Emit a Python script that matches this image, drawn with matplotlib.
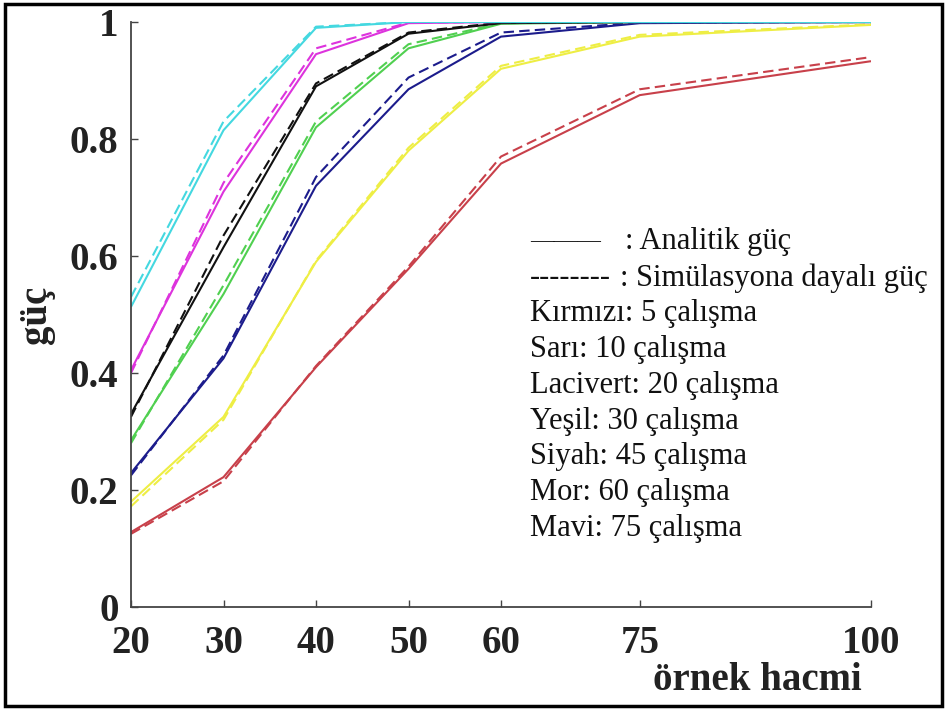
import matplotlib
matplotlib.use('Agg')
import matplotlib.pyplot as plt
from matplotlib.patches import Rectangle

# sample sizes (x axis)
n = [20, 30, 40, 50, 60, 75, 100]

# analytic power (solid) and simulation power (dashed) per number of studies
red_an = [0.128, 0.222, 0.410, 0.578, 0.758, 0.875, 0.933]
red_sim = [0.125, 0.215, 0.412, 0.582, 0.770, 0.885, 0.940]
yel_an = [0.180, 0.325, 0.590, 0.780, 0.920, 0.975, 0.995]
yel_sim = [0.172, 0.320, 0.592, 0.785, 0.925, 0.978, 0.996]
nav_an = [0.229, 0.425, 0.720, 0.885, 0.975, 0.998, 1.0]
nav_sim = [0.225, 0.430, 0.735, 0.905, 0.982, 0.999, 1.0]
grn_an = [0.285, 0.535, 0.820, 0.955, 0.997, 1.0, 1.0]
grn_sim = [0.280, 0.550, 0.830, 0.962, 0.998, 1.0, 1.0]
blk_an = [0.330, 0.615, 0.890, 0.980, 0.998, 1.0, 1.0]
blk_sim = [0.325, 0.635, 0.895, 0.982, 0.999, 1.0, 1.0]
mor_an = [0.405, 0.710, 0.945, 0.998, 1.0, 1.0, 1.0]
mor_sim = [0.400, 0.725, 0.955, 0.999, 1.0, 1.0, 1.0]
cyn_an = [0.513, 0.815, 0.990, 1.0, 1.0, 1.0, 1.0]
cyn_sim = [0.530, 0.830, 0.992, 1.0, 1.0, 1.0, 1.0]

colors = ['#c8404a', '#eeee44', '#1c1c8c', '#50d050', '#111111', '#dd33dd', '#44d8e0']
analytic = [red_an, yel_an, nav_an, grn_an, blk_an, mor_an, cyn_an]
simulated = [red_sim, yel_sim, nav_sim, grn_sim, blk_sim, mor_sim, cyn_sim]

yticks = [0, 0.2, 0.4, 0.6, 0.8, 1]
ytick_labels = ['0', '0.2', '0.4', '0.6', '0.8', '1']

legend_lines = ['Kırmızı: 5 çalışma', 'Sarı: 10 çalışma', 'Lacivert: 20 çalışma',
                'Yeşil: 30 çalışma', 'Siyah: 45 çalışma', 'Mor: 60 çalışma',
                'Mavi: 75 çalışma']

plt.rcParams['font.family'] = ['Liberation Serif', 'DejaVu Serif']

W, H = 946, 709
fig = plt.figure(figsize=(W / 100, H / 100), dpi=100)
ax = fig.add_axes([131 / W, 1 - 607 / H, 740 / W, 585 / H])

for c, a, s in zip(colors, analytic, simulated):
    ax.plot(n, a, color=c, lw=1.5, solid_capstyle='butt')
    ax.plot(n, s, color=c, lw=1.5, linestyle=(0, (5, 2.5)))

ax.set_xlim(20, 100)
ax.set_ylim(0, 1)
ax.set_xticks(n)
ax.set_xticklabels([str(v) for v in n], fontsize=28, fontweight='bold')
ax.set_yticks(yticks)
ax.set_yticklabels(ytick_labels, fontsize=28, fontweight='bold')
ax.tick_params(axis='x', direction='in', length=5, width=1, pad=13, colors='#444444',
               labelcolor='#222222')
ax.tick_params(axis='y', direction='in', length=5, width=1, pad=9, colors='#444444',
               labelcolor='#222222')
for side in ['top', 'right']:
    ax.spines[side].set_visible(False)
for side in ['left', 'bottom']:
    ax.spines[side].set_color('#444444')
    ax.spines[side].set_linewidth(1.3)

# axis titles
fig.text(37 / W, 1 - 315 / H, 'güç', rotation=90, ha='center', va='center',
         fontsize=28, fontweight='bold', color='#222222')
fig.text(757 / W, 1 - 680 / H, 'örnek hacmi', ha='center', va='center',
         fontsize=28, fontweight='bold', color='#222222')

# legend block written as text
y0 = 242
step = 35.8
fig.text(530 / W, 1 - y0 / H, '———', ha='left', va='center', fontsize=17, color='#111111')
fig.text(625 / W, 1 - y0 / H, ': Analitik güç', ha='left', va='center', fontsize=22, color='#111111')
fig.text(530 / W, 1 - (y0 + step) / H, '--------', ha='left', va='center', fontsize=22, color='#111111')
fig.text(620 / W, 1 - (y0 + step) / H, ': Simülasyona dayalı güç', ha='left', va='center',
         fontsize=22, color='#111111')
for i, t in enumerate(legend_lines):
    fig.text(530 / W, 1 - (y0 + step * (i + 2)) / H, t, ha='left', va='center',
             fontsize=22, color='#111111')

# outer frame of the picture
fig.patches.append(Rectangle((5 / W, 3 / H), 937 / W, 702 / H, transform=fig.transFigure,
                             fill=False, edgecolor='black', linewidth=2.5))

fig.savefig('out.png', dpi=100)
